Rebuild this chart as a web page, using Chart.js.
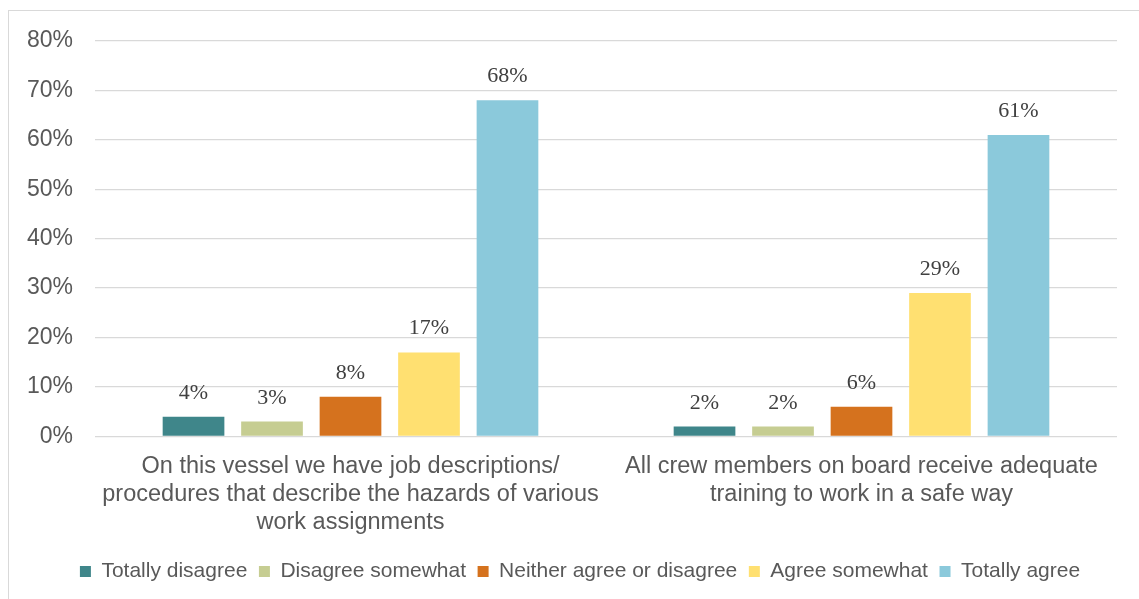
<!DOCTYPE html>
<html>
<head>
<meta charset="utf-8">
<title>Safety procedures and training on board</title>
<script src="https://cdn.jsdelivr.net/npm/chart.js@4.4.1/dist/chart.umd.min.js"></script>
<style>
  html, body { margin: 0; padding: 0; background: #ffffff; overflow: hidden; }
  #wrap { position: relative; width: 1139px; height: 599px; overflow: hidden; }
  #frame { position: absolute; left: 8px; top: 10px; width: 1200px; height: 700px;
           border: 1px solid #d9d9d9; box-sizing: border-box; }
  #chart { position: absolute; left: 0; top: 0; }
</style>
</head>
<body>
<div id="wrap">
  <div id="frame"></div>
  <canvas id="chart" width="1139" height="599"></canvas>
</div>
<script>
// Survey statements (wrapped onto lines as shown under the axis)
const statements = [
  ["On this vessel we have job descriptions/",
   "procedures that describe the hazards of various",
   "work assignments"],
  ["All crew members on board receive adequate",
   "training to work in a safe way"]
];

// Answer options and their share of responses (%) per statement
const answers = ["Totally disagree", "Disagree somewhat", "Neither agree or disagree",
                 "Agree somewhat", "Totally agree"];
const totallyDisagree = [4, 2];
const disagreeSomewhat = [3, 2];
const neitherAgree = [8, 6];
const agreeSomewhat = [17, 29];
const totallyAgree = [68, 61];

// Y axis tick values (%)
const yTicks = [0, 10, 20, 30, 40, 50, 60, 70, 80];

const colors = ["#3f868a", "#c6cd92", "#d5721e", "#ffe071", "#8bc9db"];
const series = [totallyDisagree, disagreeSomewhat, neitherAgree, agreeSomewhat, totallyAgree];

const textGrey = "#595959";

// Prints each bar's percentage just above it
const valueLabels = {
  id: "valueLabels",
  afterDatasetsDraw(chart) {
    const ctx = chart.ctx;
    ctx.save();
    ctx.font = "22px 'Liberation Serif', 'DejaVu Serif', serif";
    ctx.fillStyle = "#404040";
    ctx.textAlign = "center";
    ctx.textBaseline = "alphabetic";
    chart.data.datasets.forEach((ds, i) => {
      chart.getDatasetMeta(i).data.forEach((bar, j) => {
        ctx.fillText(ds.data[j] + "%", bar.x, bar.y - 18);
      });
    });
    ctx.restore();
  }
};

// Centres the legend row on the whole frame rather than the padded canvas
const legendShift = {
  id: "legendShift",
  afterLayout(chart) {
    const lg = chart.legend;
    if (lg) { lg.left += 21.5; lg.right += 21.5; }
  }
};

new Chart(document.getElementById("chart"), {
  type: "bar",
  data: {
    labels: statements,
    datasets: answers.map((name, i) => ({
      label: name,
      data: series[i],
      backgroundColor: colors[i],
      borderWidth: 0,
      barPercentage: 0.786,
      categoryPercentage: 0.768
    }))
  },
  options: {
    responsive: false,
    animation: false,
    layout: { padding: { left: 0, right: 22, top: 41, bottom: 7 } },
    scales: {
      y: {
        min: 0,
        max: 80,
        afterFit(scale) { scale.width = 95; },
        afterBuildTicks(scale) { scale.ticks = yTicks.map(v => ({ value: v })); },
        border: { display: false },
        grid: { color: "#d9d9d9", lineWidth: 1.3, drawTicks: false },
        ticks: {
          padding: 22,
          color: textGrey,
          font: { family: "'Liberation Sans', Arial, sans-serif", size: 23 },
          callback: v => v + "%"
        }
      },
      x: {
        afterFit(scale) { scale.height = 113; },
        border: { display: false },
        grid: { display: false, drawTicks: false },
        ticks: {
          padding: 16,
          maxRotation: 0,
          autoSkip: false,
          color: textGrey,
          font: { family: "'Liberation Sans', Arial, sans-serif", size: 23.5, lineHeight: 1.2 }
        }
      }
    },
    plugins: {
      tooltip: { enabled: false },
      legend: {
        position: "bottom",
        labels: {
          boxWidth: 11,
          boxHeight: 11,
          padding: 11.6,
          color: textGrey,
          font: { family: "'Liberation Sans', Arial, sans-serif", size: 21 }
        }
      }
    }
  },
  plugins: [valueLabels, legendShift]
});
</script>
</body>
</html>
